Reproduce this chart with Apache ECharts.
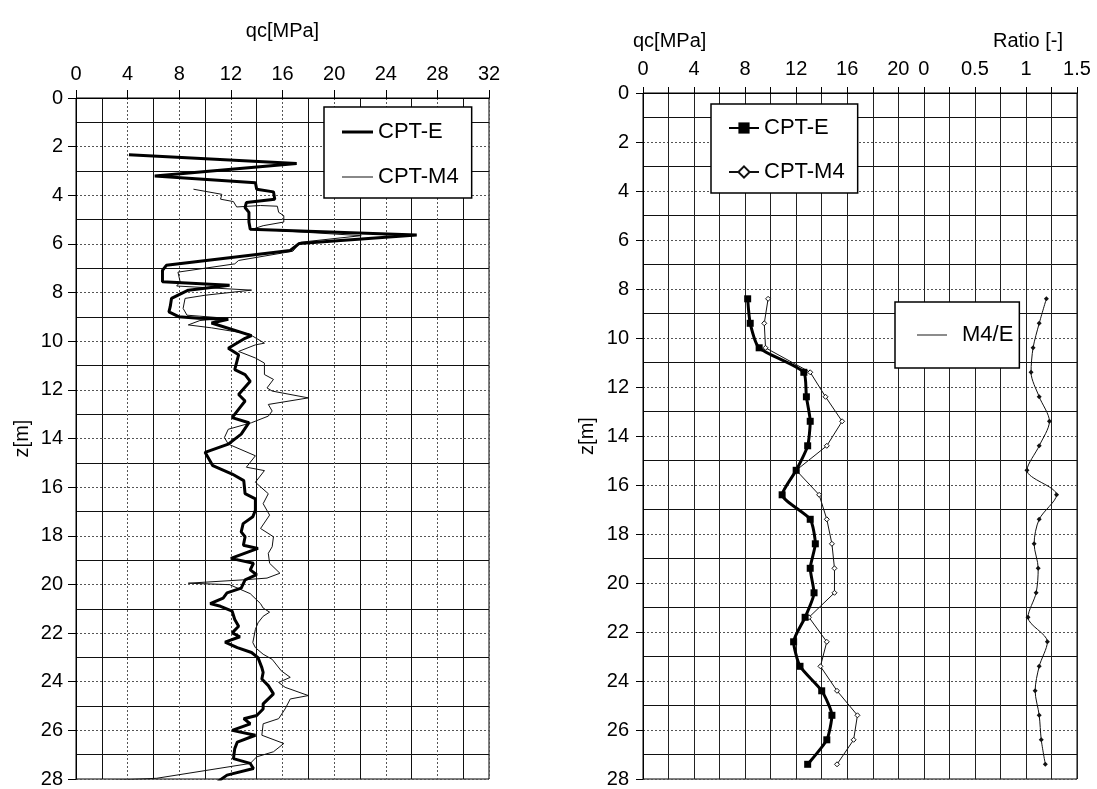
<!DOCTYPE html>
<html>
<head>
<meta charset="utf-8">
<script src="https://cdn.jsdelivr.net/npm/echarts@6/dist/echarts.min.js"></script>
<style>
html,body{margin:0;padding:0;background:#fff;}
#chart{width:1097px;height:789px;}
</style>
</head>
<body>
<div id="chart"></div>
<script>
// ---------- Left panel: continuous CPT profiles ----------
const leftDepthE = [2.33,2.69,3.21,3.48,3.75,3.86,4.16,4.30,4.50,4.70,5.10,5.40,5.63,5.98,6.27,6.88,7.09,7.56,7.70,7.90,8.24,8.58,8.79,8.99,9.06,9.10,9.25,9.77,9.88,10.29,10.56,11.17,11.37,11.65,12.19,12.46,12.73,13.14,13.35,13.82,14.23,14.57,15.12,15.46,15.73,16.27,16.48,16.95,17.22,17.50,17.84,18.04,18.39,18.52,18.93,19.13,19.40,19.60,19.81,20.15,20.35,20.56,20.79,20.90,21.10,21.44,21.72,21.99,22.15,22.37,22.60,22.80,23.01,23.42,23.62,23.89,24.16,24.50,24.91,25.12,25.39,25.52,25.73,26.00,26.20,26.48,26.75,27.16,27.36,27.57,27.84,28.10];
const leftQcE = [4.1,17.1,6.1,13.9,14.0,15.3,15.4,13.2,13.1,13.4,13.4,13.5,26.4,17.3,16.6,7.0,6.7,6.7,11.9,8.7,7.4,7.3,7.2,7.95,9.5,11.8,10.5,13.6,13.1,11.8,12.6,12.3,13.1,13.5,12.6,13.1,12.7,12.1,13.4,12.8,11.8,10.0,10.6,12.1,13.0,13.1,13.9,13.9,13.7,12.95,12.8,13.1,12.97,14.1,12.0,13.75,13.5,14.0,13.1,12.8,11.7,11.4,10.4,11.2,12.1,12.3,12.6,12.1,12.7,11.55,12.5,13.6,14.1,14.4,14.5,14.4,14.9,15.3,14.5,14.5,14.0,13.0,13.5,12.1,13.9,12.5,12.3,12.2,13.5,13.75,11.7,11.0];

const leftDepthM4 = [3.75,3.96,4.16,4.26,4.48,4.42,4.45,4.70,4.84,5.10,5.25,5.39,5.66,5.93,6.30,6.68,6.82,7.16,7.56,7.73,7.90,8.11,8.24,8.65,8.93,9.05,9.15,9.33,9.45,9.70,10.08,10.15,10.42,10.69,10.90,11.37,11.57,11.92,12.05,12.33,12.60,12.87,13.08,13.35,13.62,13.96,14.23,14.71,15.18,15.32,15.80,16.27,16.68,17.15,17.70,18.04,18.45,18.72,19.13,19.54,19.74,19.81,19.95,20.01,20.38,20.79,20.97,21.14,21.31,21.58,21.85,22.39,22.60,22.87,23.08,23.55,23.82,24.03,24.23,24.57,24.71,25.12,25.52,25.73,26.20,26.54,26.88,27.09,27.36,27.97,28.10];
const leftQcM4 = [9.1,11.3,11.2,12.2,12.45,14.3,15.6,15.7,16.1,16.1,14.5,13.7,22.1,17.4,16.8,12.6,12.3,7.9,8.07,7.8,13.6,10.0,8.45,8.3,8.6,11.5,9.6,8.7,10.5,13.4,14.6,13.9,12.6,13.9,14.6,14.6,15.3,14.8,15.2,18.0,14.9,15.2,14.9,13.6,11.8,11.5,11.8,13.9,13.2,14.6,13.9,14.9,14.5,15.0,14.3,15.3,15.2,14.9,15.0,15.8,14.8,13.0,8.7,11.9,13.5,14.3,14.5,15.0,14.5,14.1,13.9,13.7,13.9,14.5,15.2,15.9,16.6,15.7,16.2,18.0,16.6,16.2,15.7,14.5,14.4,16.1,15.3,14.0,13.5,6.25,1.0];

// ---------- Right panel: averaged values per metre ----------
const rightDepth = [8.4,9.4,10.4,11.4,12.4,13.4,14.4,15.4,16.4,17.4,18.4,19.4,20.4,21.4,22.4,23.4,24.4,25.4,26.4,27.4];
const rightQcE  = [8.2,8.4,9.1,12.6,12.8,13.1,12.9,12.0,10.9,13.1,13.5,13.1,13.4,12.7,11.8,12.3,14.0,14.8,14.4,12.9];
const rightQcM4 = [9.8,9.5,9.6,13.1,14.3,15.6,14.4,12.0,13.8,14.4,14.8,15.0,15.0,13.0,14.4,13.9,15.2,16.8,16.5,15.2];
const ratioM4E  = [1.20,1.13,1.07,1.05,1.13,1.23,1.13,1.01,1.30,1.13,1.08,1.12,1.10,1.02,1.21,1.13,1.09,1.13,1.15,1.19];

// tick label lists
const leftQcTicks = [0,4,8,12,16,20,24,28,32];
const rightQcTicks = [0,4,8,12,16,20];
const ratioTicks = [0,0.5,1,1.5];
const depthTicks = [0,2,4,6,8,10,12,14,16,18,20,22,24,26,28];

function pairs(xs, ys){ return xs.map((x,i)=>[x, ys[i]]); }

// plain line legend icons (bounding box padded with move-to points)
const thickLineIcon = 'path://M0,0M31,14M0,5.5L31,5.5L31,8.5L0,8.5Z';
const thinLineIcon  = 'path://M0,0M31,14M0,6.5L31,6.5L31,7.5L0,7.5Z';

const FONT = 'Liberation Sans, Arial, sans-serif';
const txt = {color:'#000', fontFamily:FONT, fontSize:20};
const dotted = {color:'#555', width:1, type:[2,2]};
const solid = {color:'#111', width:1};

const chart = echarts.init(document.getElementById('chart'), null, {renderer:'canvas'});
const option = {
  animation:false,
  backgroundColor:'#fff',
  textStyle:{fontFamily:FONT},
  title:[
    {text:'qc[MPa]', left:628, top:26, padding:5, textStyle:{fontSize:20, fontWeight:'normal', color:'#000', fontFamily:FONT}},
    {text:'Ratio [-]', left:988, top:26, padding:5, textStyle:{fontSize:20, fontWeight:'normal', color:'#000', fontFamily:FONT}}
  ],
  grid:[
    {left:76, top:98, width:413, height:686, show:true, borderColor:'#000', borderWidth:1, backgroundColor:'#fff'},
    {left:643, top:93, width:434, height:686, show:true, borderColor:'#000', borderWidth:1, backgroundColor:'#fff'}
  ],
  legend:[
    {orient:'vertical', left:324, top:107, padding:[14,13,10,18], itemGap:23, itemWidth:31, itemHeight:14,
     backgroundColor:'#fff', borderColor:'#000', borderWidth:1.5,
     data:[{name:'CPT-E', icon:thickLineIcon},{name:'CPT-M4', icon:thinLineIcon}],
     textStyle:{fontSize:22, color:'#000', fontFamily:FONT}},
    {orient:'vertical', left:711, top:104, padding:[13,13,10,17], itemGap:22, itemWidth:30, itemHeight:14,
     backgroundColor:'#fff', borderColor:'#000', borderWidth:1.5,
     data:['CPT-E (avg)','CPT-M4 (avg)'], formatter:n=>n.replace(' (avg)',''),
     textStyle:{fontSize:22, color:'#000', fontFamily:FONT}},
    {orient:'vertical', left:895, top:302, padding:[22,6,22,22], itemWidth:30, itemHeight:14,
     backgroundColor:'#fff', borderColor:'#000', borderWidth:1.5,
     data:[{name:'M4/E', icon:thinLineIcon}], textStyle:{fontSize:22, color:'#000', fontFamily:FONT, padding:[0,0,0,10]}}
  ],
  xAxis:[
    {gridIndex:0, type:'value', position:'top', min:0, max:32, interval:4,
     name:'qc[MPa]', nameLocation:'middle', nameGap:57, nameTextStyle:{fontSize:20, color:'#000', fontFamily:FONT},
     axisLine:{show:true, onZero:false, lineStyle:{color:'#000', width:1}},
     axisTick:{show:true, length:8, lineStyle:{color:'#000'}},
     axisLabel:Object.assign({margin:14, formatter:v=>leftQcTicks.includes(v)?String(v):''}, txt),
     splitLine:{show:true, lineStyle:dotted},
     minorTick:{show:false, splitNumber:2},
     minorSplitLine:{show:true, lineStyle:solid}},
    {gridIndex:1, type:'value', position:'top', min:0, max:34, interval:2,
     axisLine:{show:true, onZero:false, lineStyle:{color:'#000', width:1}},
     axisTick:{show:true, length:6, lineStyle:{color:'#000'}},
     axisLabel:Object.assign({margin:14, formatter:v=>rightQcTicks.includes(v)?String(v):''}, txt),
     splitLine:{show:true, lineStyle:{color:'#222', width:1}}},
    {gridIndex:1, type:'value', position:'top', min:-2.75, max:1.5, interval:0.25,
     axisLine:{show:false, onZero:false}, axisTick:{show:false},
     axisLabel:Object.assign({margin:14, formatter:v=>{const r=Math.round(v*100)/100; return ratioTicks.includes(r)?String(r):'';}}, txt),
     splitLine:{show:false}}
  ],
  yAxis:[
    {gridIndex:0, type:'value', inverse:true, min:0, max:28, interval:2,
     name:'z[m]', nameLocation:'middle', nameGap:44, nameRotate:90, nameTextStyle:{fontSize:20, color:'#000', fontFamily:FONT},
     axisLine:{show:true, onZero:false, lineStyle:{color:'#000', width:1}},
     axisTick:{show:true, length:8, lineStyle:{color:'#000'}},
     axisLabel:Object.assign({margin:13, formatter:v=>depthTicks.includes(v)?String(v):''}, txt),
     splitLine:{show:true, lineStyle:dotted},
     minorTick:{show:false, splitNumber:2},
     minorSplitLine:{show:true, lineStyle:solid}},
    {gridIndex:1, type:'value', inverse:true, min:0, max:28, interval:2,
     name:'z[m]', nameLocation:'middle', nameGap:46, nameRotate:90, nameTextStyle:{fontSize:20, color:'#000', fontFamily:FONT},
     axisLine:{show:true, onZero:false, lineStyle:{color:'#000', width:1}},
     axisTick:{show:true, length:7, lineStyle:{color:'#000'}},
     axisLabel:Object.assign({margin:14, formatter:v=>depthTicks.includes(v)?String(v):''}, txt),
     splitLine:{show:true, lineStyle:dotted},
     minorTick:{show:false, splitNumber:2},
     minorSplitLine:{show:true, lineStyle:solid}}
  ],
  series:[
    {name:'CPT-E', type:'line', xAxisIndex:0, yAxisIndex:0, data:pairs(leftQcE, leftDepthE),
     symbol:'none', lineStyle:{color:'#000', width:3}, itemStyle:{color:'#000'}, z:3},
    {name:'CPT-M4', type:'line', xAxisIndex:0, yAxisIndex:0, data:pairs(leftQcM4, leftDepthM4),
     symbol:'none', lineStyle:{color:'#111', width:1}, itemStyle:{color:'#111'}, z:2},
    {name:'CPT-E (avg)', type:'line', xAxisIndex:1, yAxisIndex:1, data:pairs(rightQcE, rightDepth),
     symbol:'rect', symbolSize:7, smooth:0.2, lineStyle:{color:'#000', width:3}, itemStyle:{color:'#000'}, z:3},
    {name:'CPT-M4 (avg)', type:'line', xAxisIndex:1, yAxisIndex:1, data:pairs(rightQcM4, rightDepth),
     symbol:'diamond', symbolSize:5, lineStyle:{color:'#111', width:1}, itemStyle:{color:'#fff', borderColor:'#111', borderWidth:1}, z:2},
    {name:'M4/E', type:'line', xAxisIndex:2, yAxisIndex:1, data:pairs(ratioM4E, rightDepth),
     symbol:'diamond', symbolSize:5, smooth:0.3, lineStyle:{color:'#111', width:1}, itemStyle:{color:'#111'}, z:2}
  ]
};
chart.setOption(option);
</script>
</body>
</html>
